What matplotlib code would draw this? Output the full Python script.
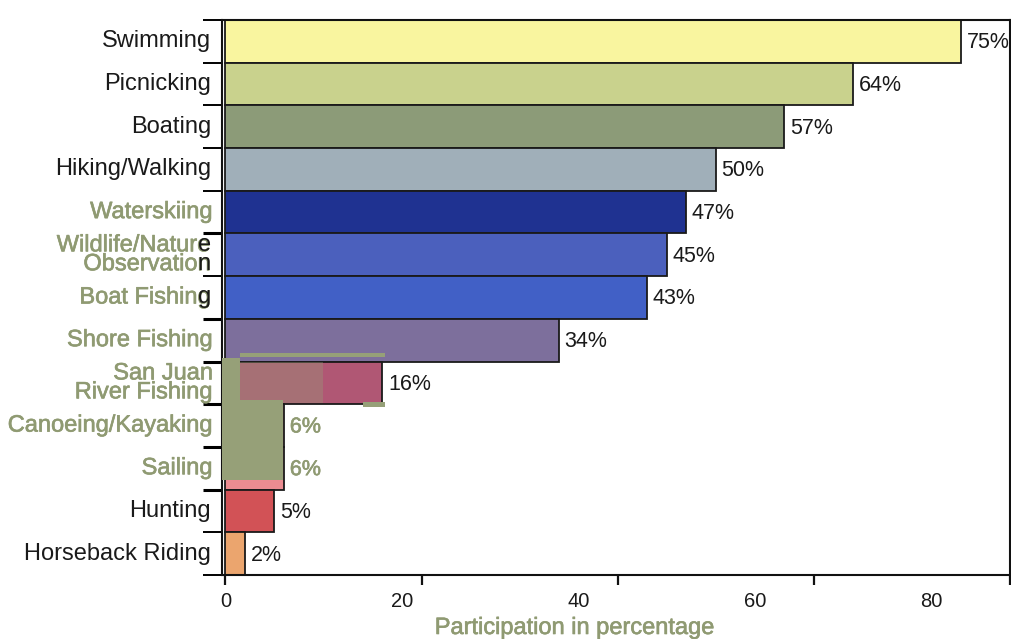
import matplotlib
matplotlib.use("Agg")
import matplotlib.pyplot as plt
import matplotlib.patheffects as pe
from matplotlib.patches import Rectangle

plt.rcParams["font.family"] = ["Liberation Sans", "DejaVu Sans"]

# ---- data -------------------------------------------------------------
activities = [
    "Swimming", "Picnicking", "Boating", "Hiking/Walking", "Waterskiing",
    "Wildlife/Nature\nObservation", "Boat Fishing", "Shore Fishing",
    "San Juan\nRiver Fishing", "Canoeing/Kayaking", "Sailing", "Hunting",
    "Horseback Riding",
]
participation = [75, 64, 57, 50, 47, 45, 43, 34, 16, 6, 6, 5, 2]
x_ticks = [0, 20, 40, 60, 80]

bar_colors = [
    "#f9f59f", "#c9d28d", "#8c9b78", "#a0afb9", "#1f3291", "#4b60bd",
    "#4160c6", "#7d6f9c", "#b05774", "#dc7a86", "#eb8c91", "#d25256",
    "#eba56e",
]

OLIVE = "#8f9a72"
PATCH = "#96a078"
INK = "#1a1a1a"
# labels printed in olive (the rest in black)
olive_labels = {4, 5, 6, 7, 8, 9, 10}
olive_values = {9, 10}
# trailing letters of a few labels that stay black
black_tails = {5: "e\nn", 6: "g"}
# category boundaries whose tick is olive
olive_bounds = {4.5, 6.5, 7.5, 8.5, 9.5, 10.5}

LABEL_SCALE = 1.1116  # spacing of the printed axis numbers
heavy = [pe.withStroke(linewidth=0.45, foreground=OLIVE)]

# ---- figure -----------------------------------------------------------
fig = plt.figure(figsize=(10.11, 6.39), dpi=100)
ax = fig.add_axes([222 / 1011, 1 - 575 / 639, 788 / 1011, 555 / 639])

n = len(activities)
ypos = list(range(n))
ax.barh(ypos, participation, height=1.0, left=0, color=bar_colors,
        edgecolor=INK, linewidth=1.3, zorder=2)

ax.set_xlim(-0.35, 80)
ax.set_ylim(n - 0.5, -0.5)

for s in ax.spines.values():
    s.set_linewidth(1.5)
    s.set_color("#111111")

# y axis: tick marks on category boundaries, labels drawn separately
ax.set_yticks([])
bounds = [i - 0.5 for i in range(n + 1)]
ax.set_yticks(bounds, minor=True)
ax.tick_params(axis="y", which="minor", length=14, width=1.4,
               direction="out", labelleft=False)
for b, t in zip(bounds, ax.yaxis.get_minor_ticks()):
    if b in olive_bounds:
        t.tick1line.set_color(OLIVE)
        t.tick1line.set_markeredgewidth(2.2)
    else:
        t.tick1line.set_color("#111111")

# x axis tick marks (numbers on a secondary axis)
ax.set_xticks(x_ticks)
ax.set_xticklabels([])
ax.tick_params(axis="x", which="major", length=7, width=1.6,
               direction="out", color="#111111")

sec = ax.secondary_xaxis("bottom",
                         functions=(lambda m: m * LABEL_SCALE,
                                    lambda s: s / LABEL_SCALE))
sec.set_xticks(x_ticks)
sec.tick_params(length=0, pad=12, labelsize=14.5, labelcolor=INK)
sec.spines["bottom"].set_visible(False)

ax.set_xlabel("Participation in percentage", fontsize=17, color=OLIVE,
              path_effects=heavy)
ax.xaxis.set_label_coords((575 - 222) / 788, -(628 - 575) / 555)
ax.xaxis.label.set_va("center")

# category labels
ytrans = ax.get_yaxis_transform()
for i, name in enumerate(activities):
    olive = i in olive_labels
    dx = -6.5 if (olive and i not in black_tails) else -8
    ax.annotate(name, xy=(0, i), xycoords=ytrans, xytext=(dx, 0),
                textcoords="offset points", ha="right", va="center",
                ma="right", fontsize=17, linespacing=0.82,
                color=OLIVE if olive else INK,
                path_effects=heavy if olive else None, zorder=5)
    if i in black_tails:
        ax.annotate(black_tails[i], xy=(0, i), xycoords=ytrans,
                    xytext=(dx, 0), textcoords="offset points",
                    ha="right", va="center", ma="right", fontsize=17,
                    linespacing=0.82, color=INK, zorder=6)

# value labels
for i, v in enumerate(participation):
    olive = i in olive_values
    ax.annotate(f"{v}%", xy=(v, i), xytext=(4, -1),
                textcoords="offset points", ha="left", va="center",
                fontsize=15.5, color=OLIVE if olive else INK,
                path_effects=heavy if olive else None)

# olive cover patches over the lower-left bars
covers = [
    (-0.35, 7.42, 1.88, 0.98, 1.0),
    (-0.35, 8.40, 6.25, 1.87, 1.0),
    (1.53, 7.30, 14.77, 0.095, 1.0),
    (14.07, 8.45, 2.23, 0.11, 1.0),
    (1.53, 7.52, 8.37, 0.96, 0.35),
]
for x0, y0, w, h, a in covers:
    ax.add_patch(Rectangle((x0, y0), w, h, facecolor=PATCH, edgecolor="none",
                           alpha=a, zorder=4, clip_on=False))

fig.savefig("out.png", dpi=100)
